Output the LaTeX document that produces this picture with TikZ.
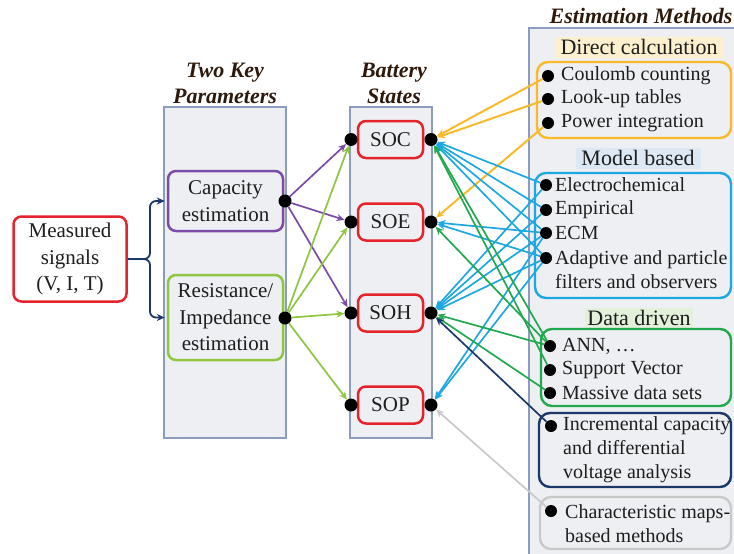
\documentclass[tikz,border=0pt]{standalone}
\usepackage{fontspec}
\setmainfont{Liberation Serif}
\usetikzlibrary{arrows.meta}

\definecolor{ink}{HTML}{1E1E1E}
\definecolor{titleink}{HTML}{2E1A0C}
\definecolor{panelfill}{HTML}{EEEFF2}
\definecolor{panelline}{HTML}{8C9CC0}
\definecolor{sigred}{HTML}{E5232B}
\definecolor{capviolet}{HTML}{7A4CA8}
\definecolor{resgreen}{HTML}{8DC641}
\definecolor{dirgold}{HTML}{F8BA2A}
\definecolor{modcyan}{HTML}{1EA8E2}
\definecolor{datagreen}{HTML}{22A94F}
\definecolor{icanavy}{HTML}{1C3769}
\definecolor{mapgray}{HTML}{C9C9C9}
\definecolor{hdryellow}{HTML}{FCF0CF}
\definecolor{hdrblue}{HTML}{DCE8F4}
\definecolor{hdrgreen}{HTML}{E3F0DA}

\newcommand\leftfont{\fontsize{21}{26.5}\selectfont}
\newcommand\itemfont{\fontsize{20}{24}\selectfont}
\newcommand\headfont{\fontsize{22}{26}\selectfont}

\begin{document}
\begin{tikzpicture}[x=1pt,y=-1pt,
  panel/.style={draw=panelline, fill=panelfill, line width=1.2pt, inner sep=0pt},
  ptitle/.style={font=\headfont\bfseries\itshape, text=titleink, align=center, inner sep=0pt},
  rbox/.style={rounded corners=8pt, line width=2.5pt, align=center, inner sep=0pt,
               fill=panelfill, text=ink, font=\leftfont},
  mbox/.style={rounded corners=11pt, line width=2.4pt, inner sep=0pt, fill=panelfill},
  hdr/.style={font=\headfont, text=ink, inner sep=0pt, minimum height=21pt},
  itm/.style={font=\itemfont, text=ink, inner sep=0pt, anchor=west, align=left},
  dot/.style={circle, fill=black, inner sep=0pt, minimum size=13pt},
  idot/.style={circle, fill=black, inner sep=0pt, minimum size=12pt},
  conn/.style={line width=1.7pt, -{Stealth[length=8pt,width=7pt]}},
  brace/.style={draw=icanavy, line width=1.8pt, rounded corners=6pt,
                -{Stealth[length=8pt,width=7pt]}, shorten >=2pt}
]
\useasboundingbox (0,0) rectangle (734,554);

% ---- column panels
\node[panel, minimum width=122pt, minimum height=331pt] (keypanel) at (225,272.5) {};
\node[panel, minimum width=82pt, minimum height=331pt] (statepanel) at (391,272.5) {};
\node[panel, minimum width=207pt, minimum height=528pt] (methpanel) at (632.5,292) {};

% ---- column titles
\node[ptitle] (keytitle) at (225,83.5) {Two Key\\Parameters};
\node[ptitle] (statetitle) at (394,83) {Battery\\States};
\node[ptitle] (methtitle) at (641,16) {Estimation Methods};

% ---- input signals
\node[rbox, draw=sigred, fill=white, minimum width=113pt, minimum height=85pt] (meas)
  at (70,259) {Measured\\signals\\(V, I, T)};

% ---- key parameters
\node[rbox, draw=capviolet, minimum width=115pt, minimum height=60pt] (cap)
  at (225.5,201) {Capacity\\estimation};
\node[rbox, draw=resgreen, minimum width=115pt, minimum height=85pt] (res)
  at (225.5,317.5) {Resistance/\\Impedance\\estimation};

% ---- battery states
\foreach \nm/\lbl/\yy in {soc/SOC/139.5, soe/SOE/222, soh/SOH/313, sop/SOP/405}{
  \node[rbox, draw=sigred, minimum width=65pt, minimum height=37pt] (\nm) at (390.5,\yy) {\lbl};
  \node[dot] (\nm L) at (351,\yy) {};
  \node[dot] (\nm R) at (431,\yy) {};
}
\node[dot] (capD) at (285,201) {};
\node[dot] (resD) at (285,318) {};

% ---- direct calculation
\node[hdr, fill=hdryellow, minimum width=167pt] (dirhdr) at (639,47) {Direct calculation};
\node[mbox, draw=dirgold, minimum width=194pt, minimum height=76pt] (dirbox) at (634,100) {};
\node[idot] (cc) at (548,76) {};
\node[idot] (lut) at (548,99) {};
\node[idot] (pint) at (548,123) {};
\node[itm] at (561,76) {Coulomb counting};
\node[itm] at (561,99) {Look-up tables};
\node[itm] at (561,123) {Power integration};

% ---- model based
\node[hdr, fill=hdrblue, minimum width=125pt] (modhdr) at (638,158) {Model based};
\node[mbox, draw=modcyan, minimum width=196pt, minimum height=125pt] (modbox) at (633,235.5) {};
\node[idot] (elec) at (546,185) {};
\node[idot] (emp) at (546,210) {};
\node[idot] (ecm) at (546,233) {};
\node[idot] (adap) at (546,258) {};
\node[itm] at (555,185) {Electrochemical};
\node[itm] at (555,210) {Empirical};
\node[itm] at (555,233) {ECM};
\node[itm] at (555,270) {Adaptive and particle\\filters and observers};

% ---- data driven
\node[hdr, fill=hdrgreen, minimum width=108pt] (datahdr) at (639,318) {Data driven};
\node[mbox, draw=datagreen, minimum width=190pt, minimum height=77pt] (databox) at (636,367.5) {};
\node[idot] (ann) at (550,346) {};
\node[idot] (svm) at (550,370) {};
\node[idot] (big) at (550,393) {};
\node[itm] at (562,346) {ANN, \dots};
\node[itm] at (562,370) {Support Vector};
\node[itm] at (562,393) {Massive data sets};

% ---- incremental capacity
\node[mbox, draw=icanavy, minimum width=192pt, minimum height=74pt] (icabox) at (635,450) {};
\node[idot] (ica) at (551,426) {};
\node[itm] at (563,450) {Incremental capacity\\and differential\\voltage analysis};

% ---- characteristic maps
\node[mbox, draw=mapgray, minimum width=191pt, minimum height=52pt] (mapbox) at (635.5,523) {};
\node[idot] (cmap) at (551,511) {};
\node[itm] at (565,523.5) {Characteristic maps-\\based methods};

% ---- signals to key parameters
\draw[brace] (meas.east) -- (150,259) |- (cap.west);
\draw[brace] (meas.east) -- (150,259) |- (res.west);

% ---- key parameters to states
\foreach \t in {socL, soeL, sohL}
  \draw[conn, capviolet] (capD) -- (\t);
\foreach \t in {socL, soeL, sohL, sopL}
  \draw[conn, resgreen] (resD) -- (\t);

% ---- methods to states
\draw[conn, dirgold, line width=2pt] (cc) -- (socR);
\draw[conn, dirgold, line width=2pt] (lut) -- (socR);
\draw[conn, dirgold, line width=2pt] (pint) -- (soeR);

\foreach \s in {elec, emp, ecm, adap}
  \draw[conn, modcyan] (\s) -- (socR);
\foreach \s in {ecm, adap}
  \draw[conn, modcyan] (\s) -- (soeR);
\foreach \s in {elec, emp, ecm, adap}
  \draw[conn, modcyan] (\s) -- (sohR);
\foreach \s in {ecm, adap}
  \draw[conn, modcyan] (\s) -- (sopR);

\draw[conn, datagreen] (ann) -- (socR);
\draw[conn, datagreen] (svm) -- (socR);
\draw[conn, datagreen] (ann) -- (soeR);
\draw[conn, datagreen] (ann) -- (sohR);
\draw[conn, datagreen] (big) -- (sohR);

\draw[conn, icanavy] (ica) -- (sohR);
\draw[conn, mapgray] (cmap) -- (sopR);
\end{tikzpicture}
\end{document}
